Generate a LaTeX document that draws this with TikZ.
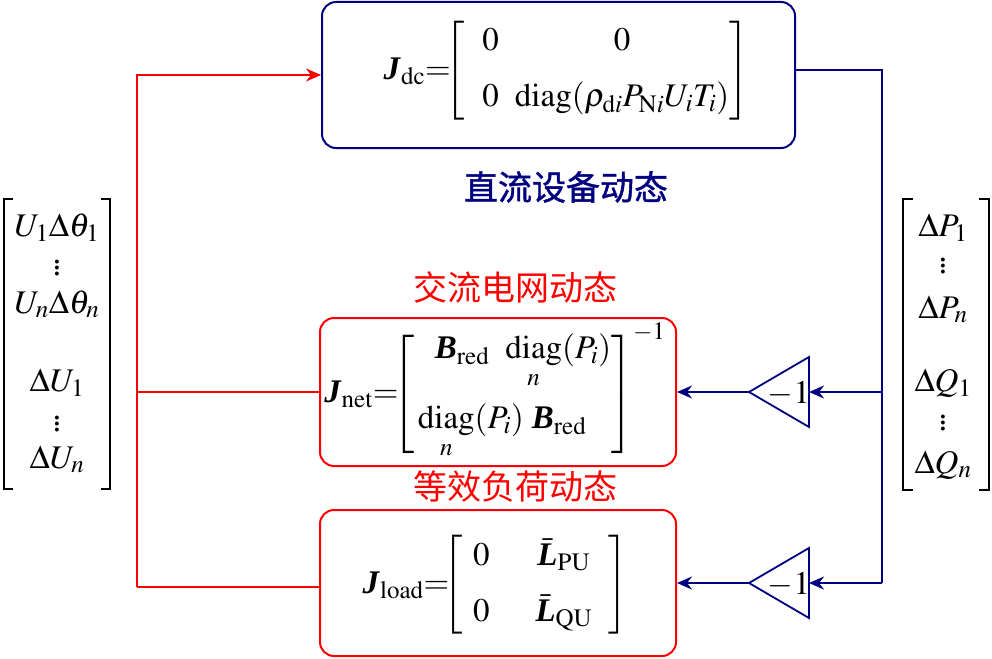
\documentclass[tikz,border=0pt]{standalone}
\usepackage{amsmath}
\usepackage{mathptmx}
\usepackage{fontspec}
\setmainfont{Liberation Serif}
\newfontfamily\cjk{Noto Sans CJK SC}
\newfontfamily\cjkb[FakeBold=1.2]{Noto Sans CJK SC}
\usetikzlibrary{arrows.meta}
\DeclareMathSizes{33}{33}{25}{19}
\definecolor{navy}{RGB}{0,0,128}
\definecolor{pred}{RGB}{255,0,0}
\newcommand{\bJ}{\textbf{\textit{J}}}
\newcommand{\bB}{\textbf{\textit{B}}}
\newcommand{\bL}{\textbf{\textit{L}}}
\newcommand{\dg}{\underset{n}{\mathrm{diag}}}
\newcommand{\myvdots}{\vbox{\baselineskip=6pt\lineskiplimit=0pt\hbox{.}\hbox{.}\hbox{.}}}
\tikzset{
  every node/.style={font=\fontsize{33}{40}\selectfont, inner sep=0pt},
  boxstyle/.style={draw, rounded corners=14pt, line width=2pt},
  cjkred/.style={text=pred, font=\cjk\fontsize{34}{40}\selectfont},
  cjkblue/.style={text=navy, font=\cjkb\fontsize{34}{40}\selectfont},
  conn/.style={line width=2pt},
  arr/.style={conn, -{Stealth[length=15pt,width=13pt,inset=5pt]}},
  brk/.style={line width=2.5pt},
  vec/.style={anchor=base},
}
\begin{document}
\begin{tikzpicture}[x=1pt,y=-1pt]
\useasboundingbox (0,0) rectangle (992,658);
% boxes
\node[boxstyle, draw=navy, minimum width=473pt, minimum height=146pt] (dc) at (558.5,75) {};
\node[boxstyle, draw=pred, minimum width=356pt, minimum height=148pt] (net) at (498,392) {};
\node[boxstyle, draw=pred, minimum width=356pt, minimum height=146pt] (load) at (498,583) {};
% box contents
\setlength{\arraycolsep}{8pt}
\delimitershortfall=20pt
\node (dcm) at (566,71) {$\bJ_{\mathrm{dc}}{=}\mkern-5mu\begin{bmatrix}\hspace{18pt}0 & 0\\[16pt] \hspace{18pt}0 & \mathrm{diag}(\rho_{\mathrm{d}i}P_{\mathrm{N}i}U_iT_i)\end{bmatrix}$};
\node (netm) at (495,391) {$\bJ_{\mathrm{net}}{=}\mkern-5mu\setlength{\arraycolsep}{6pt}\begin{bmatrix}\hspace{20pt}\bB_{\mathrm{red}}\hspace{16pt}\dg(P_i)\\[30pt] \dg(P_i)\hspace{8pt}\bB_{\mathrm{red}}\hspace{22pt}\end{bmatrix}^{-1}$};
\node (loadm) at (495,585) {$\bJ_{\mathrm{load}}{=}\mkern-5mu\begin{bmatrix}\hspace{10pt}0 & \hspace{30pt}\bar{\bL}_{\mathrm{PU}}\hspace{16pt}\\[16pt] \hspace{10pt}0 & \hspace{30pt}\bar{\bL}_{\mathrm{QU}}\hspace{16pt}\end{bmatrix}$};
% labels
\node[cjkblue] (lbldc) at (566,187) {直流设备动态};
\node[cjkred] (lblnet) at (515,287) {交流电网动态};
\node[cjkred] (lblload) at (515,487) {等效负荷动态};
% left vector
\draw[brk] (13,199) -- (4,199) -- (4,489) -- (13,489);
\draw[brk] (101,199) -- (110,199) -- (110,489) -- (101,489);
\node[vec] (x1) at (57,236) {$U_1\Delta\theta_1$};
\node (x2) at (57,268) {\myvdots};
\node[vec] (x3) at (57,313) {$U_n\Delta\theta_n$};
\node[vec] (x4) at (57,391) {$\Delta U_1$};
\node (x5) at (57,424) {\myvdots};
\node[vec] (x6) at (57,468) {$\Delta U_n$};
% right vector
\draw[brk] (913,199) -- (903,199) -- (903,490) -- (913,490);
\draw[brk] (979,199) -- (989,199) -- (989,490) -- (979,490);
\node[vec] (y1) at (943,236) {$\Delta P_1$};
\node (y2) at (943,266) {\myvdots};
\node[vec] (y3) at (943,318) {$\Delta P_n$};
\node[vec] (y4) at (943,391) {$\Delta Q_1$};
\node (y5) at (943,423) {\myvdots};
\node[vec] (y6) at (943,473) {$\Delta Q_n$};
% gain triangles
\coordinate (g1tip) at (749,392);
\coordinate (g1base) at (809,392);
\draw[navy, line width=1.8pt] (g1tip) -- (809,357) -- (809,427) -- cycle;
\node (g1) at (789,394) {$-1$};
\coordinate (g2tip) at (749,583);
\coordinate (g2base) at (809,583);
\draw[navy, line width=1.8pt] (g2tip) -- (809,548) -- (809,618) -- cycle;
\node (g2) at (789,585) {$-1$};
% red connectors
\coordinate (rtop) at (137,75);
\coordinate (rmid) at (137,392);
\coordinate (rbot) at (137,587);
\draw[arr, pred] (rbot) -- (rtop) -- (dc.west);
\draw[conn, pred] (rmid) -- (net.west);
\draw[conn, pred] (rbot) -- (rbot -| load.west);
% navy connectors
\coordinate (bt) at (882,70);
\coordinate (bm) at (882,392);
\coordinate (bb) at (882,583);
\draw[conn, navy] (dc.east |- bt) -- (bt) -- (bb);
\draw[arr, navy] (bm) -- (g1base);
\draw[arr, navy] (g1tip) -- (net.east);
\draw[arr, navy] (bb) -- (g2base);
\draw[arr, navy] (g2tip) -- (load.east);
\end{tikzpicture}
\end{document}
